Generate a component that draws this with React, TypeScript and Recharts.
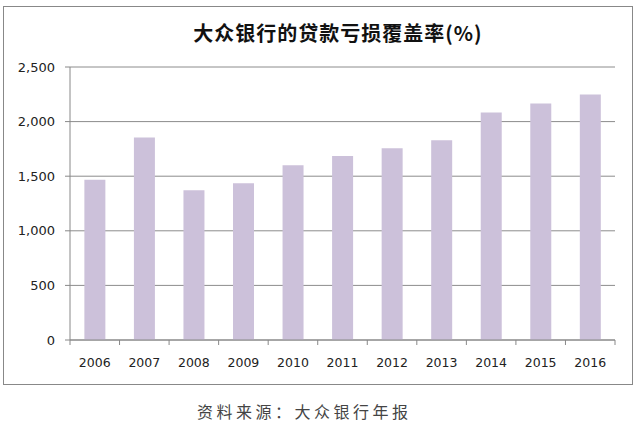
import React from 'react';
import { Bar, BarChart, CartesianGrid, XAxis, YAxis } from 'recharts';

const years = ['2006', '2007', '2008', '2009', '2010', '2011', '2012', '2013', '2014', '2015', '2016'];
const coverage = [1468, 1855, 1372, 1435, 1600, 1685, 1755, 1830, 2083, 2165, 2248];
const yTicks = [0, 500, 1000, 1500, 2000, 2500];

const data = years.map((year, i) => ({ year, coverage: coverage[i] }));

const BAND = 545 / years.length;
const tickFont = '"DejaVu Sans", Tahoma, sans-serif';

function YearTick(props: any) {
  const { x, y, payload, index } = props;
  return (
    <g>
      <line x1={x - BAND / 2} y1={y} x2={x - BAND / 2} y2={y + 5} stroke="#888" />
      {index === years.length - 1 && (
        <line x1={x + BAND / 2} y1={y} x2={x + BAND / 2} y2={y + 5} stroke="#888" />
      )}
      <text x={x} y={y + 27} textAnchor="middle" fontSize={12.5} fontFamily={tickFont} fill="#222">
        {payload.value}
      </text>
    </g>
  );
}

export default function App() {
  return (
    <div style={{ position: 'absolute', left: 0, top: 0, width: 639, height: 428, background: '#fff' }}>
      <div
        style={{
          position: 'absolute',
          left: 3,
          top: 6,
          width: 630,
          height: 379,
          boxSizing: 'border-box',
          border: '1px solid #888',
        }}
      />
      <div
        style={{
          position: 'absolute',
          left: 3,
          top: 20,
          width: 670,
          textAlign: 'center',
          fontFamily: '"Noto Sans CJK SC", sans-serif',
          fontWeight: 700,
          fontSize: 20,
          letterSpacing: 1,
          color: '#111',
          lineHeight: '26px',
        }}
      >
        大众银行的贷款亏损覆盖率(%)
      </div>
      <div style={{ position: 'absolute', left: 3, top: 6 }}>
        <BarChart width={630} height={379} data={data} margin={{ top: 61, right: 18, left: 0, bottom: 0 }} barCategoryGap="29%">
          <CartesianGrid vertical={false} stroke="#8c8c8c" />
          <XAxis
            dataKey="year"
            height={45}
            stroke="#888"
            tickLine={false}
            tickSize={0}
            tickMargin={0}
            tick={<YearTick />}
            interval={0}
          />
          <YAxis
            width={67}
            domain={[0, 2500]}
            ticks={yTicks}
            stroke="#888"
            tickSize={5}
            tickMargin={10}
            tick={{ fontSize: 13, fontFamily: tickFont, fill: '#222' }}
            tickFormatter={(v: number) => v.toLocaleString('en-US')}
          />
          <Bar dataKey="coverage" fill="#ccc1da" isAnimationActive={false} />
        </BarChart>
      </div>
      <div
        style={{
          position: 'absolute',
          left: 197,
          top: 400,
          fontFamily: '"Noto Sans CJK SC", sans-serif',
          fontSize: 16,
          letterSpacing: 3.5,
          color: '#444',
          lineHeight: '22px',
          whiteSpace: 'nowrap',
        }}
      >
        资料来源：大众银行年报
      </div>
    </div>
  );
}
